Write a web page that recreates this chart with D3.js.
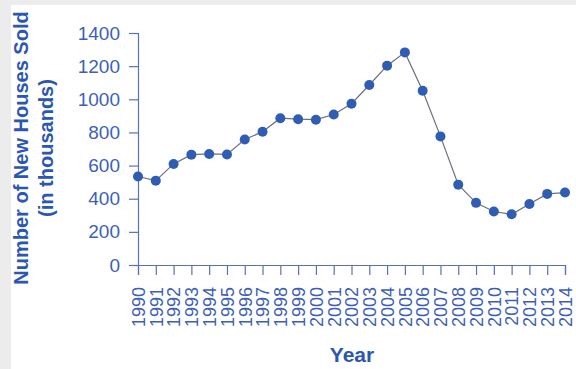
<!DOCTYPE html>
<html>
<head>
<meta charset="utf-8">
<script src="https://cdn.jsdelivr.net/npm/d3@7"></script>
<style>
  html, body { margin: 0; padding: 0; background: #ececec; }
  svg { display: block; }
</style>
</head>
<body>
<div id="chart"></div>
<script>
// Data: new houses sold (thousands)
var years = [1990, 1991, 1992, 1993, 1994, 1995, 1996, 1997, 1998, 1999, 2000, 2001,
             2002, 2003, 2004, 2005, 2006, 2007, 2008, 2009, 2010, 2011, 2012, 2013, 2014];
var sold = [534, 509, 610, 666, 670, 667, 757, 804, 886, 880, 877, 908,
            973, 1086, 1203, 1283, 1051, 776, 485, 375, 323, 306, 368, 429, 437];
var yTicks = [0, 200, 400, 600, 800, 1000, 1200, 1400];

var data = years.map(function(yr, i) { return {year: yr, value: sold[i]}; });

var W = 576, H = 369;
var textBlue = "#3d5fb8", titleBlue = "#2b57b3", axisBlue = "#5a70b8";

var svg = d3.select("#chart").append("svg")
    .attr("width", W)
    .attr("height", H);

// white panel (gray strips left and top)
svg.append("rect")
    .attr("x", 11).attr("y", 5)
    .attr("width", W - 11).attr("height", H - 5)
    .attr("fill", "#ffffff");

var x = d3.scaleLinear()
    .domain([1990, 2014])
    .range([138, 565]);

var y = d3.scaleLinear()
    .domain([0, 1400])
    .range([265, 33]);

// Y axis
var yAxis = svg.append("g")
    .attr("transform", "translate(138,0)")
    .call(d3.axisLeft(y).tickValues(yTicks).tickFormat(d3.format("d")).tickSize(9).tickPadding(9));
yAxis.selectAll("text")
    .attr("fill", textBlue)
    .attr("font-size", "19px")
    .attr("font-family", "Liberation Sans, Arial, sans-serif");

// X axis
var xAxis = svg.append("g")
    .attr("transform", "translate(0,265)")
    .call(d3.axisBottom(x).tickValues(years).tickFormat(d3.format("d")).tickSize(10).tickPadding(10));
xAxis.selectAll("text")
    .attr("fill", textBlue)
    .attr("font-size", "18px")
    .attr("font-family", "Liberation Sans, Arial, sans-serif")
    .attr("transform", "rotate(-90)")
    .attr("text-anchor", "end")
    .attr("x", -22)
    .attr("y", 0)
    .attr("dy", "0.35em");

svg.selectAll(".domain, .tick line")
    .attr("stroke", axisBlue)
    .attr("stroke-width", 1.2);

// line
var line = d3.line()
    .x(function(d) { return x(d.year); })
    .y(function(d) { return y(d.value); });

svg.append("path")
    .datum(data)
    .attr("fill", "none")
    .attr("stroke", "#6a6f80")
    .attr("stroke-width", 1.2)
    .attr("d", line);

// dots
svg.selectAll(".dot")
    .data(data)
    .join("circle")
    .attr("class", "dot")
    .attr("cx", function(d) { return x(d.year); })
    .attr("cy", function(d) { return y(d.value); })
    .attr("r", 5)
    .attr("fill", "#2f5db3");

// Axis titles
var yTitle = svg.append("text")
    .attr("transform", "translate(0,148) rotate(-90)")
    .attr("text-anchor", "middle")
    .attr("fill", titleBlue)
    .attr("font-size", "20px")
    .attr("font-weight", "bold")
    .attr("font-family", "Liberation Sans, Arial, sans-serif");
yTitle.append("tspan").attr("x", 0).attr("y", 28).text("Number of New Houses Sold");
yTitle.append("tspan").attr("x", 0).attr("y", 53).text("(in thousands)");

svg.append("text")
    .attr("x", 352)
    .attr("y", 362)
    .attr("text-anchor", "middle")
    .attr("fill", titleBlue)
    .attr("font-size", "21px")
    .attr("font-weight", "bold")
    .attr("font-family", "Liberation Sans, Arial, sans-serif")
    .text("Year");
</script>
</body>
</html>
